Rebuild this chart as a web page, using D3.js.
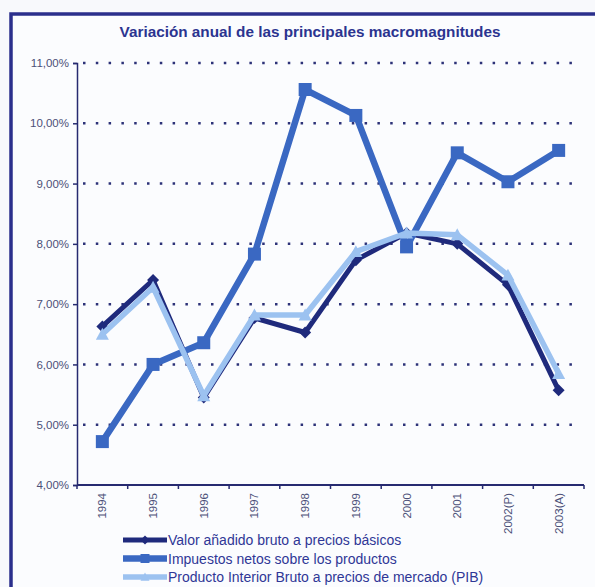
<!DOCTYPE html>
<html>
<head>
<meta charset="utf-8">
<script src="https://cdn.jsdelivr.net/npm/d3@7"></script>
<style>
  html, body { margin: 0; padding: 0; background: #f8f9fc; }
  svg { display: block; font-family: "Liberation Sans", Arial, sans-serif; }
</style>
</head>
<body>
<svg id="chart" width="595" height="587"></svg>
<script>
// Variación anual de las principales macromagnitudes (%)
const years = ['1994', '1995', '1996', '1997', '1998', '1999', '2000', '2001', '2002(P)', '2003(A)'];
const vab = [6.63, 7.40, 5.45, 6.77, 6.53, 7.73, 8.18, 8.00, 7.32, 5.57];
const impuestos = [4.72, 6.00, 6.36, 7.83, 10.56, 10.13, 7.95, 9.51, 9.03, 9.55];
const pib = [6.50, 7.28, 5.48, 6.82, 6.82, 7.87, 8.18, 8.15, 7.48, 5.85];
const yTicks = [4, 5, 6, 7, 8, 9, 10, 11];

const series = [
  { name: 'Valor añadido bruto a precios básicos', values: vab, color: '#1f2a7c', width: 5, marker: 'diamond' },
  { name: 'Impuestos netos sobre los productos', values: impuestos, color: '#3a68c2', width: 6.5, marker: 'square' },
  { name: 'Producto Interior Bruto a precios de mercado (PIB)', values: pib, color: '#9cc2f0', width: 5.5, marker: 'triangle' },
];

const svg = d3.select('#chart');

// outer frame
svg.append('rect').attr('x', 11).attr('y', 14).attr('width', 600).attr('height', 600)
  .attr('fill', '#fbfcfe').attr('stroke', '#2b2f8c').attr('stroke-width', 3.5);

svg.append('text').attr('x', 310).attr('y', 37).attr('text-anchor', 'middle')
  .attr('font-size', 15.3).attr('font-weight', 'bold').attr('fill', '#2b3490')
  .text('Variación anual de las principales macromagnitudes');

const x = d3.scaleBand().domain(years).range([77, 584]);
const y = d3.scaleLinear().domain([4, 11]).range([485, 63]);

// dotted grid
svg.append('g').selectAll('line').data(yTicks.filter(d => d > 4)).join('line')
  .attr('x1', 83).attr('x2', 582)
  .attr('y1', d => y(d)).attr('y2', d => y(d))
  .attr('stroke', '#2d3278').attr('stroke-width', 2.5)
  .attr('stroke-dasharray', '2.5 10.3');

// y axis
const yAxis = svg.append('g').attr('transform', 'translate(77,0)')
  .call(d3.axisLeft(y).tickValues(yTicks).tickSize(4).tickPadding(4)
    .tickFormat(d => d3.format('.2f')(d).replace('.', ',') + '%'));
yAxis.select('.domain').attr('stroke', '#262a70').attr('stroke-width', 1.5);
yAxis.selectAll('.tick line').attr('stroke', '#262a70').attr('stroke-width', 1.5);
yAxis.selectAll('text').attr('font-size', 11.5).attr('fill', '#4c5078')
  .attr('font-family', '"Liberation Sans", Arial, sans-serif');

// x axis, ticks at band boundaries
const xg = svg.append('g').attr('transform', 'translate(0,485)');
xg.append('line').attr('x1', 77).attr('x2', 584).attr('stroke', '#262a70').attr('stroke-width', 2);
xg.selectAll('.bt').data(years.concat([null])).join('line').attr('class', 'bt')
  .attr('x1', (d, i) => 77 + i * x.step()).attr('x2', (d, i) => 77 + i * x.step())
  .attr('y1', 0).attr('y2', 4).attr('stroke', '#262a70').attr('stroke-width', 1.5);
xg.selectAll('text').data(years).join('text')
  .attr('transform', d => `translate(${x(d) + x.bandwidth() / 2 + 4},8) rotate(-90)`)
  .attr('text-anchor', 'end').attr('font-size', 11.5).attr('fill', '#4c5078')
  .text(d => d);

const cx = d => x(d) + x.bandwidth() / 2;
const line = d3.line().x((v, i) => cx(years[i])).y(v => y(v));

function markerPath(type, s) {
  if (type === 'square') return d3.symbol(d3.symbolSquare, s * s)();
  if (type === 'diamond') return `M0,${-s / 2}L${s / 2},0L0,${s / 2}L${-s / 2},0Z`;
  return `M0,${-s / 2}L${s / 2},${s / 2.4}L${-s / 2},${s / 2.4}Z`;
}
const markerSize = { square: 13, diamond: 12, triangle: 13 };

series.forEach(s => {
  const g = svg.append('g');
  g.append('path').datum(s.values).attr('d', line).attr('fill', 'none')
    .attr('stroke', s.color).attr('stroke-width', s.width).attr('stroke-linejoin', 'round');
  g.selectAll('path.m').data(s.values).join('path').attr('class', 'm')
    .attr('transform', (v, i) => `translate(${cx(years[i])},${y(v)})`)
    .attr('d', markerPath(s.marker, markerSize[s.marker]))
    .attr('fill', s.color);
});

// legend
const lg = svg.append('g');
series.forEach((s, i) => {
  const ly = 540 + i * 18.5;
  lg.append('line').attr('x1', 123).attr('x2', 167).attr('y1', ly).attr('y2', ly)
    .attr('stroke', s.color).attr('stroke-width', s.width);
  lg.append('path').attr('transform', `translate(145,${ly})`)
    .attr('d', markerPath(s.marker, 9)).attr('fill', s.color);
  lg.append('text').attr('x', 168).attr('y', ly + 5).attr('font-size', 14)
    .attr('fill', '#2f3796').text(s.name);
});
</script>
</body>
</html>
